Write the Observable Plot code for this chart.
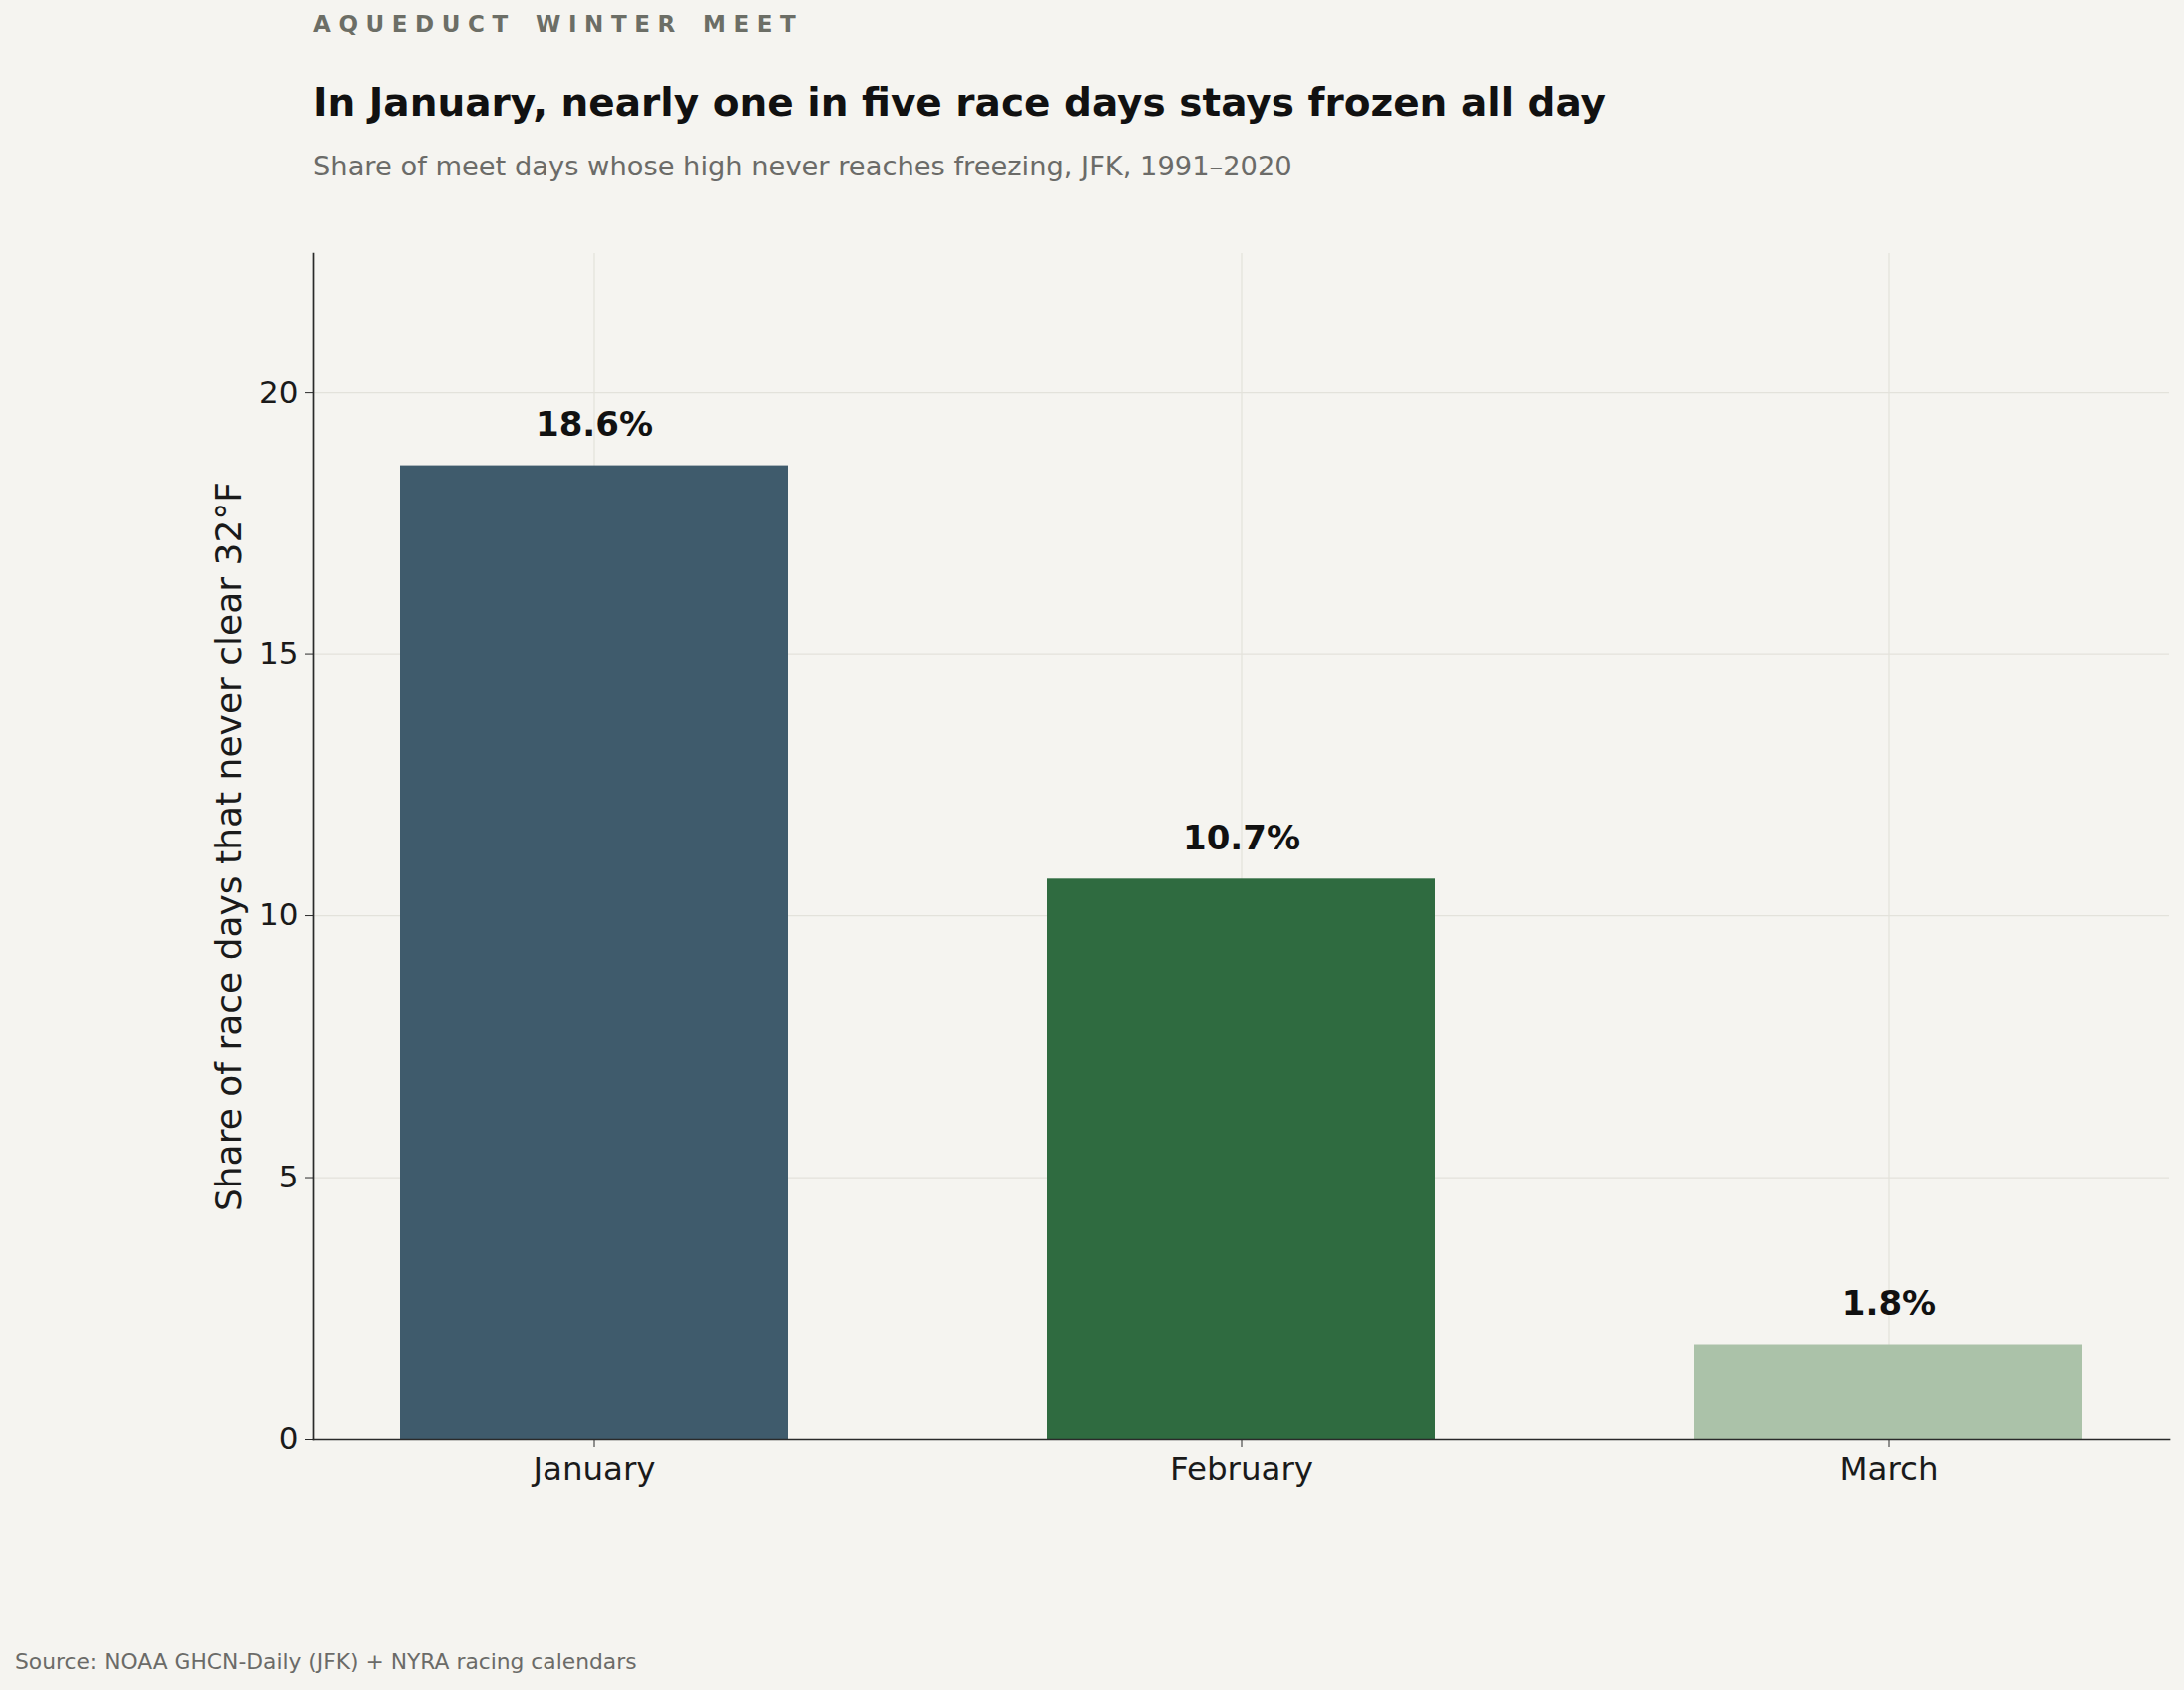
<!DOCTYPE html>
<html><head><meta charset="utf-8">
<script src="https://cdn.jsdelivr.net/npm/d3@7"></script>
<script src="https://cdn.jsdelivr.net/npm/@observablehq/plot@0.6"></script>
<style>
body{margin:0;background:#f5f4f0;font-family:"DejaVu Sans",sans-serif;}
#wrap{position:relative;width:2190px;height:1695px;overflow:hidden;background:#f5f4f0}
.t{position:absolute;line-height:1;white-space:nowrap;margin:0}
#kicker{left:314px;top:13px;font-size:23px;font-weight:bold;letter-spacing:0.33em;word-spacing:0.2em;color:#6c6e66}
#title{left:314px;top:83px;font-size:39px;font-weight:bold;color:#111111}
#subtitle{left:314px;top:153px;font-size:27.3px;color:#6b6b68}
#source{left:15px;top:1656px;font-size:21.8px;color:#6b6b68}
#chart{position:absolute;left:0;top:0}
</style></head><body>
<div id="wrap">
<div id="chart"></div>
<div class="t" id="kicker">AQUEDUCT WINTER MEET</div>
<div class="t" id="title">In January, nearly one in five race days stays frozen all day</div>
<div class="t" id="subtitle">Share of meet days whose high never reaches freezing, JFK, 1991–2020</div>
<div class="t" id="source">Source: NOAA GHCN-Daily (JFK) + NYRA racing calendars</div>
</div>
<script>
const months = ["January", "February", "March"];
const shares = [18.6, 10.7, 1.8];
const barColors = ["#3f5b6c", "#2f6b40", "#abc2a9"];
const yTicks = [0, 5, 10, 15, 20];
const yMax = 22.65;
const yLabel = "Share of race days that never clear 32°F";

const data = months.map((m, i) => ({month: m, share: shares[i]}));

const chart = Plot.plot({
  width: 2190,
  height: 1530,
  marginTop: 254,
  marginBottom: 87,
  marginLeft: 314,
  marginRight: 15,
  style: {background: "transparent", fontFamily: "DejaVu Sans", color: "#1a1a1a", overflow: "visible"},
  x: {type: "band", domain: months, paddingInner: 0.4, paddingOuter: 0.132},
  y: {domain: [0, yMax]},
  color: {domain: months, range: barColors},
  marks: [
    Plot.gridX(months, {stroke: "#e3e2db", strokeOpacity: 1, strokeWidth: 1.2}),
    Plot.gridY(yTicks, {stroke: "#e3e2db", strokeOpacity: 1, strokeWidth: 1.2}),
    Plot.barY(data, {x: "month", y: "share", fill: "month"}),
    Plot.text(data, {x: "month", y: "share", text: d => d.share.toFixed(1) + "%", lineAnchor: "bottom", dy: -30, fontSize: 34, fontWeight: "bold", fill: "#111111"}),
    Plot.axisY(yTicks, {tickSize: 8, tickPadding: 7, fontSize: 31, label: null, stroke: "#2a2a2a", tickFormat: d3.format("d")}),
    Plot.axisX({tickSize: 8, tickPadding: 9, fontSize: 32.5, label: null, stroke: "#2a2a2a"}),
    Plot.frame({anchor: "left", stroke: "#2a2a2a", strokeWidth: 1.7}),
    Plot.frame({anchor: "bottom", stroke: "#2a2a2a", strokeWidth: 1.7}),
    Plot.text([yLabel], {text: d => d, frameAnchor: "left", textAnchor: "middle", rotate: -90, dx: -84, fontSize: 36, fill: "#1a1a1a"})
  ]
});
document.getElementById("chart").appendChild(chart);
</script>
</body></html>
